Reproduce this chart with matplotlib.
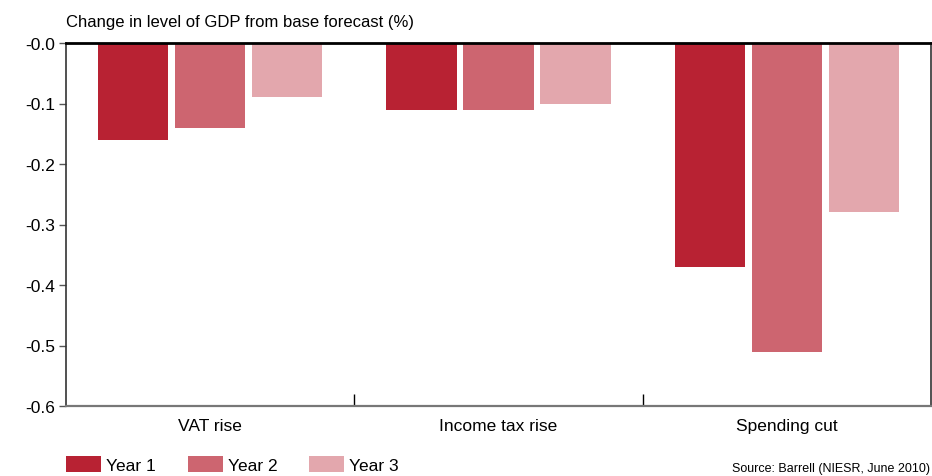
import numpy as np
import matplotlib.pyplot as plt
from matplotlib.ticker import FixedLocator, NullFormatter

plt.rcParams['font.family'] = ['Liberation Sans', 'DejaVu Sans']

# Données
categories = ["VAT rise", "Income tax rise", "Spending cut"]
series_names = ["Year 1", "Year 2", "Year 3"]
year1 = [-0.16, -0.11, -0.37]
year2 = [-0.14, -0.11, -0.51]
year3 = [-0.09, -0.10, -0.28]
yticks = [0.0, -0.1, -0.2, -0.3, -0.4, -0.5, -0.6]
ytick_labels = ["-0.0", "-0.1", "-0.2", "-0.3", "-0.4", "-0.5", "-0.6"]

colors = ["#B82233", "#CD6570", "#E3A7AD"]

fig = plt.figure(figsize=(9.32, 4.77), dpi=100)
ax = fig.add_axes([66 / 932, 1 - 407 / 477, 865 / 932, 363 / 477])

x = np.arange(len(categories))
width = 0.243
step = 0.267
for i, (vals, name) in enumerate(zip([year1, year2, year3], series_names)):
    ax.bar(x + (i - 1) * step, vals, width, color=colors[i], label=name, zorder=2)

ax.set_xlim(-0.5, len(categories) - 0.5)
ax.set_ylim(-0.6, 0)
ax.set_yticks(yticks)
ax.set_yticklabels(ytick_labels, fontsize=12.5)
ax.tick_params(axis='y', direction='out', length=5, width=1, color='#555555', pad=3)

# séparateurs de catégories en bas
ax.set_xticks(x)
ax.set_xticklabels(categories, fontsize=12.5)
ax.tick_params(axis='x', which='major', length=0, pad=9)
ax.xaxis.set_minor_locator(FixedLocator([0.5, 1.5]))
ax.xaxis.set_minor_formatter(NullFormatter())
ax.tick_params(axis='x', which='minor', direction='in', length=9, width=1, color='black')

ax.spines['top'].set_linewidth(2)
ax.spines['top'].set_color('black')
ax.spines['top'].set_zorder(3)
for s in ['left', 'right']:
    ax.spines[s].set_linewidth(1.2)
    ax.spines[s].set_color('#333333')
ax.spines['bottom'].set_linewidth(1.6)
ax.spines['bottom'].set_color('#777777')

fig.text(66 / 932, 1 - 22 / 477, "Change in level of GDP from base forecast (%)",
         fontsize=12, va='center', ha='left')

fig.legend(loc='lower left', bbox_to_anchor=(66 / 932, 3 / 477), ncol=3, frameon=False,
           fontsize=12.5, handlelength=2.0, handleheight=1.1, handletextpad=0.3,
           columnspacing=1.85, borderpad=0, borderaxespad=0)

fig.text(930 / 932, 1 - 469 / 477, "Source: Barrell (NIESR, June 2010)",
         fontsize=9, ha='right', va='center')

plt.savefig("out.png", dpi=100)
